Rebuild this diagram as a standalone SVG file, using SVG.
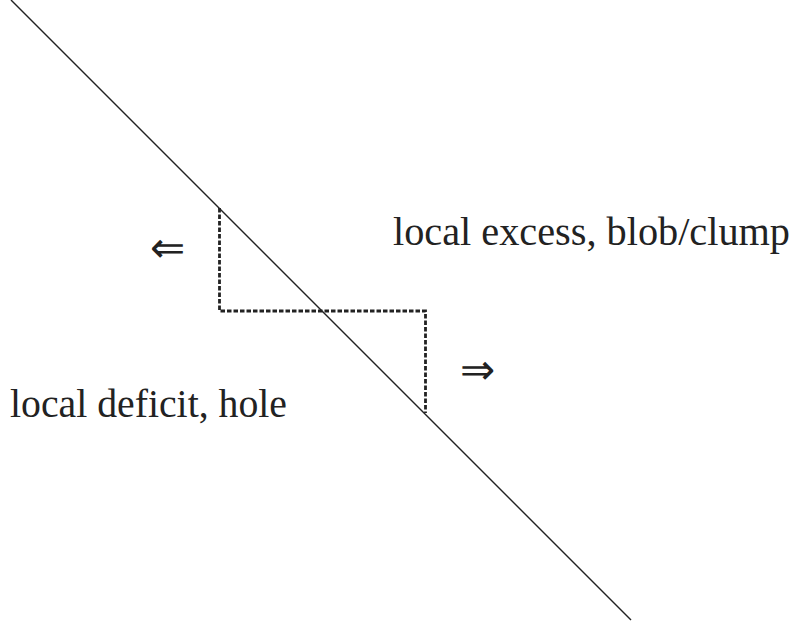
<svg xmlns="http://www.w3.org/2000/svg" width="796" height="623" viewBox="0 0 796 623">
  <style>
    .lbl { font-family: "Liberation Serif", "DejaVu Serif", serif; font-size: 40px; fill: #222; }
    .arr { font-family: "DejaVu Sans ExtraLight", "DejaVu Sans", sans-serif; font-weight: 200; font-size: 42px; fill: #222; }
    .edge { stroke: #222; stroke-width: 1.4; fill: none; }
    .dot { stroke: #222; stroke-width: 2.8; fill: none; stroke-dasharray: 4.5 2; }
  </style>
  <rect width="796" height="623" fill="#ffffff"/>
  <g id="connectors">
    <line class="edge" x1="11" y1="0" x2="631" y2="620"/>
    <polyline class="dot" points="219.5,208 219.5,311 425.5,311 425.5,413"/>
  </g>
  <g id="excess">
    <text class="lbl" x="393" y="245" textLength="397" lengthAdjust="spacingAndGlyphs">local excess, blob/clump</text>
  </g>
  <g id="deficit">
    <text class="lbl" x="10" y="417" textLength="277" lengthAdjust="spacingAndGlyphs">local deficit, hole</text>
  </g>
  <g id="arrow-left">
    <text class="arr" x="150" y="262" textLength="35" lengthAdjust="spacingAndGlyphs">⇐</text>
  </g>
  <g id="arrow-right">
    <text class="arr" x="460" y="384" textLength="35" lengthAdjust="spacingAndGlyphs">⇒</text>
  </g>
</svg>
